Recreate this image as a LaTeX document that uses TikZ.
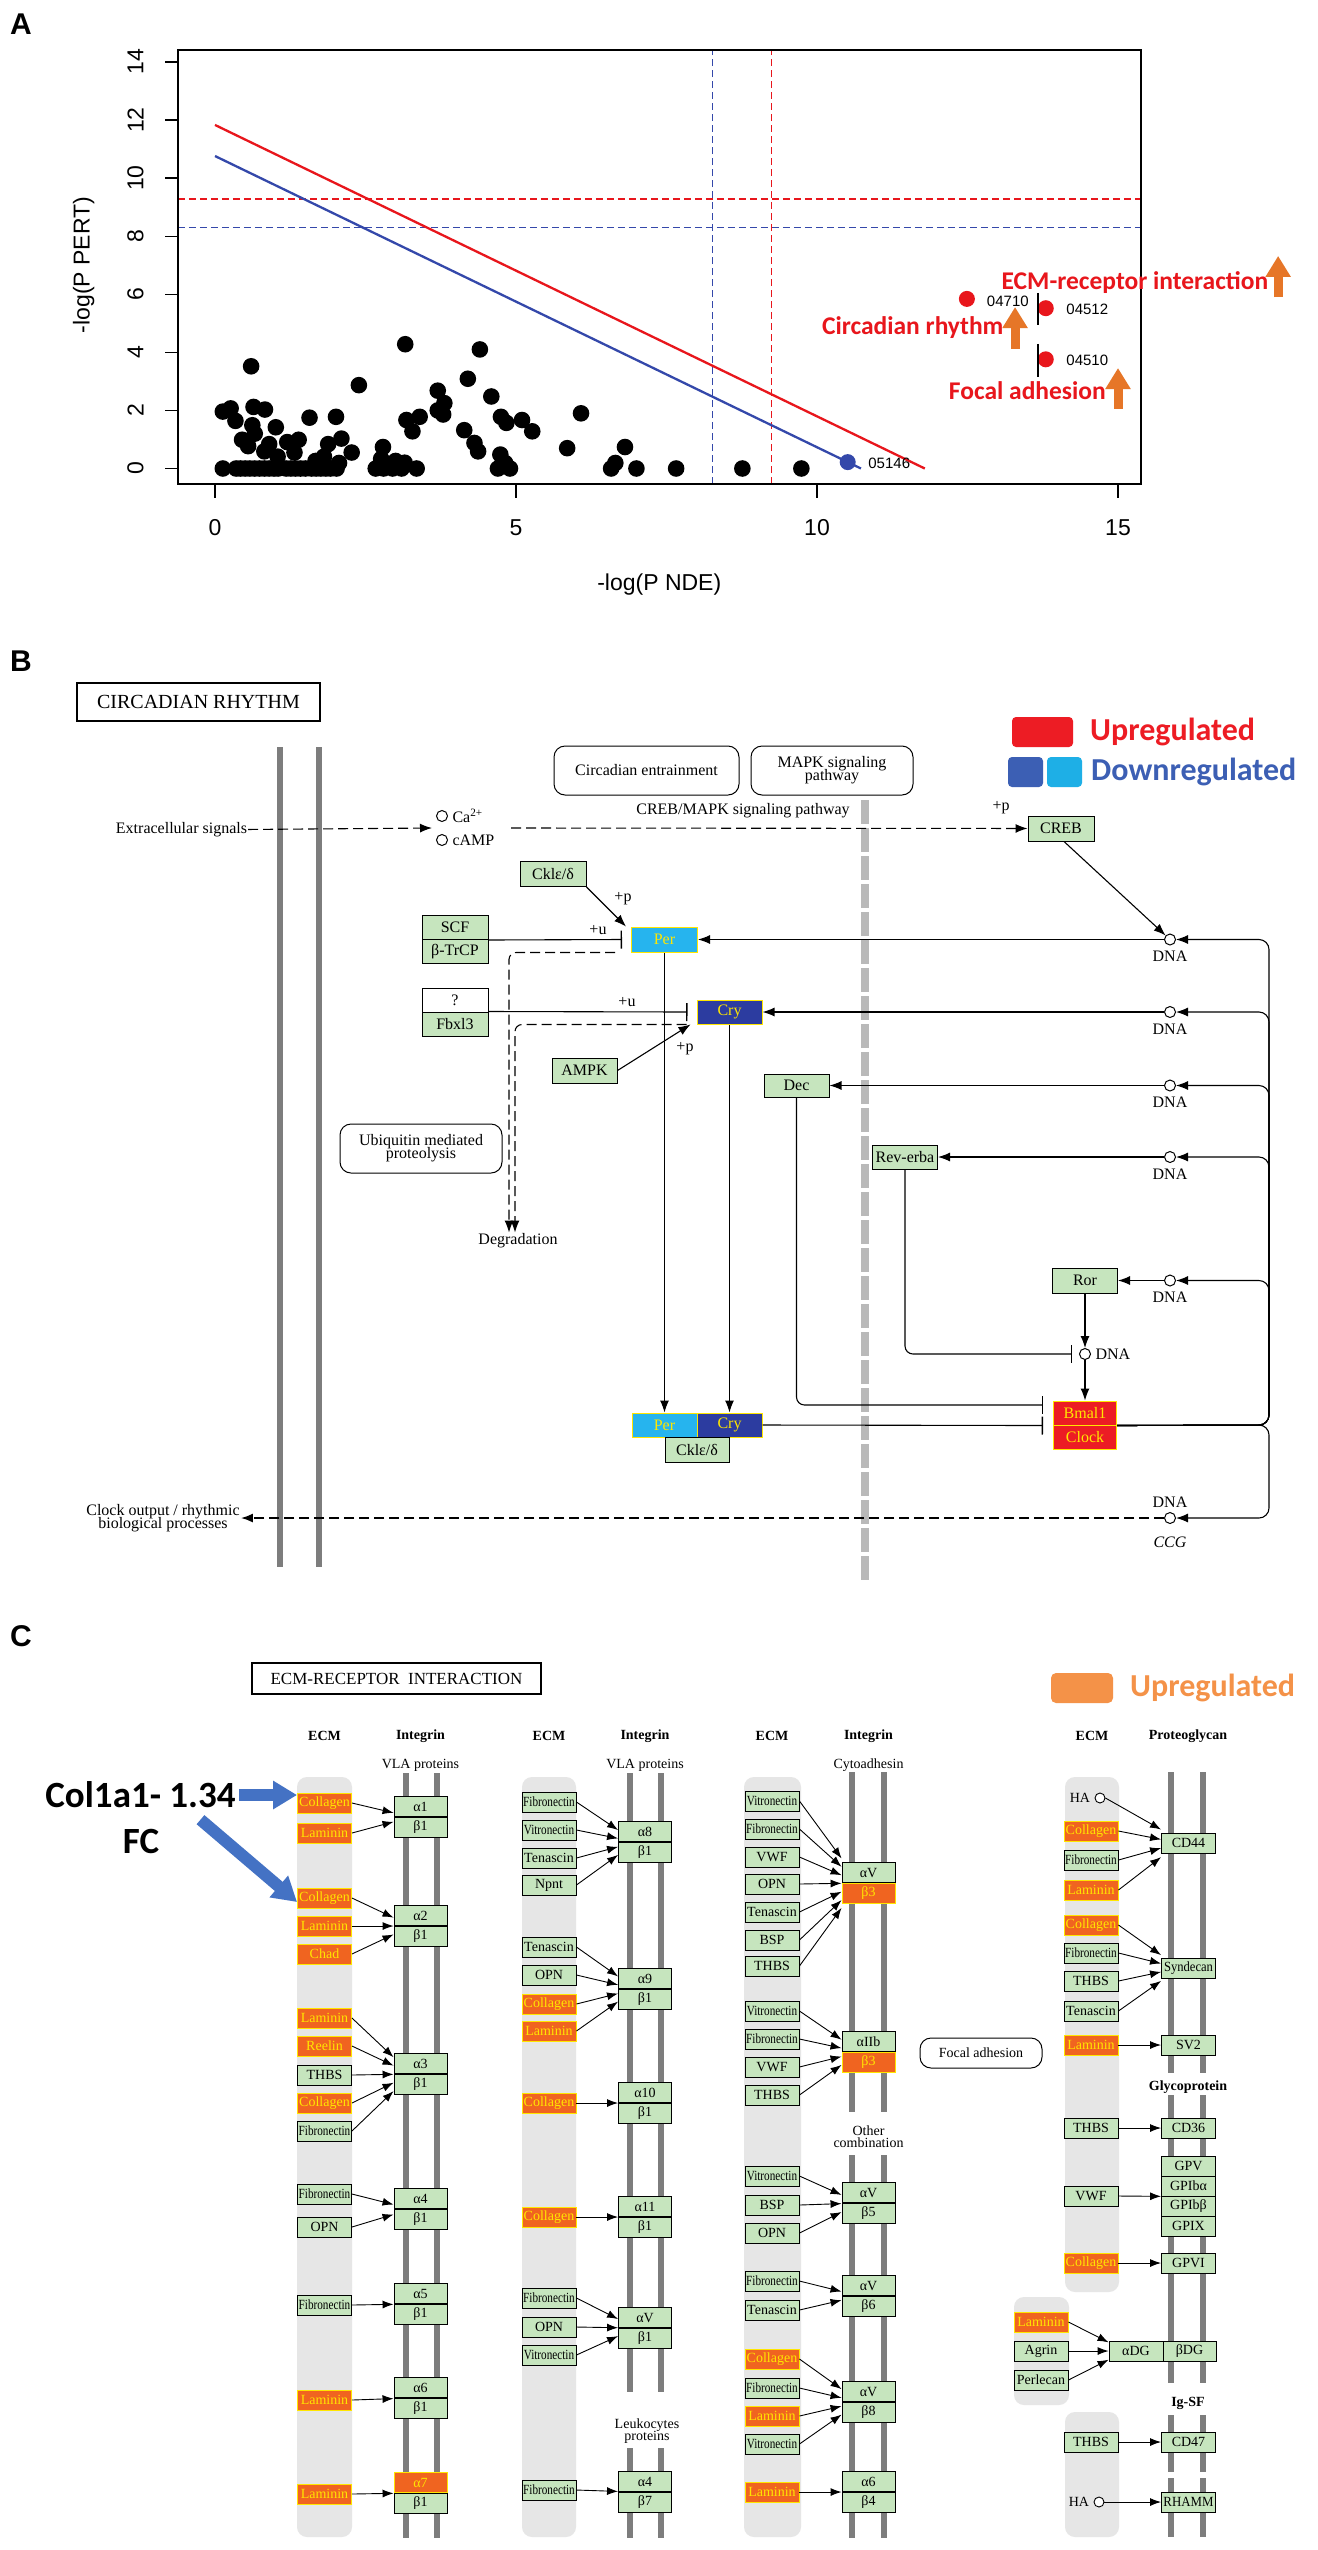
\documentclass[tikz,border=0pt]{standalone}
\usepackage{fontspec}
\setmainfont{Liberation Serif}
\newfontfamily\arialf{Liberation Sans}
\newfontfamily\calf{Carlito}
\usetikzlibrary{arrows.meta,positioning,calc}

\definecolor{kgreen}{RGB}{198,229,190}
\definecolor{korange}{RGB}{240,100,32}
\definecolor{kred}{RGB}{236,28,36}
\definecolor{perblue}{RGB}{38,180,238}
\definecolor{crydblue}{RGB}{44,60,160}
\definecolor{kyellow}{RGB}{255,230,0}
\definecolor{ecmgray}{RGB}{230,230,230}
\definecolor{membgray}{RGB}{125,125,125}
\definecolor{dashgray}{RGB}{185,185,185}
\definecolor{plotred}{RGB}{232,22,28}
\definecolor{plotblue}{RGB}{52,72,170}
\definecolor{annorange}{RGB}{230,118,40}
\definecolor{legred}{RGB}{237,28,36}
\definecolor{legdblue}{RGB}{60,95,180}
\definecolor{leglblue}{RGB}{30,175,230}
\definecolor{legorange}{RGB}{244,146,72}
\definecolor{fcblue}{RGB}{68,114,196}

\newcommand{\kfont}{\fontsize{16}{17}\selectfont}
\newcommand{\cfont}{\fontsize{14}{15}\selectfont}
\newcommand{\annfont}{\calf\bfseries\fontsize{25.5}{26}\selectfont}
\newcommand{\fn}{\scalebox{0.8}[1]{Fibronectin}}
\newcommand{\vn}{\scalebox{0.8}[1]{Vitronectin}}
\newcommand{\ecmlink}[2]{\draw[carr] (#1.east) -- ($(#2)!0.3!(#2 |- #1.east)$);}

\tikzset{
  kbox/.style={draw, line width=1pt, fill=kgreen, inner sep=0pt, minimum width=66pt, minimum height=25pt, font=\kfont},
  kg/.style={draw, line width=0.9pt, fill=kgreen, inner sep=0pt, minimum width=54pt, minimum height=20pt, font=\cfont},
  gn/.style={},
  up/.style={fill=korange, draw=kyellow, text=kyellow},
  upred/.style={fill=kred, draw=kyellow, text=kyellow},
  dnlight/.style={fill=perblue, draw=kyellow, text=kyellow},
  dndark/.style={fill=crydblue, draw=kyellow, text=kyellow},
  titlebox/.style={draw, line width=2.6pt, inner sep=0pt},
  pathbox/.style={draw, line width=1pt, rounded corners=11pt, inner sep=2pt, align=center, font=\kfont},
  dna/.style={circle, draw, line width=1pt, fill=white, inner sep=0pt, minimum size=11pt},
  dnalab/.style={dna, label={[font=\kfont, label distance=2pt]below:DNA}},
  ha/.style={circle, draw, line width=0.9pt, fill=white, inner sep=0pt, minimum size=10pt, label={[font=\cfont, label distance=1pt]left:HA}},
  memb/.style={line width=6pt, membgray},
  karr/.style={-{Latex[length=12pt,width=9pt]}, line width=1.1pt},
  kinh/.style={-{Bar[width=18pt,line width=1.4pt]}, line width=1.1pt},
  kdash/.style={dash pattern=on 10pt off 5pt, line width=1.3pt},
  carr/.style={-{Latex[length=11pt,width=8pt]}, line width=0.9pt},
  hdr/.style={font=\cfont\bfseries},
  sub/.style={font=\cfont, align=center},
  lbl/.style={font=\kfont, inner sep=1pt},
  annarr/.style={annorange, line width=9pt, -{Triangle[length=21pt,width=24pt]}},
  fcarr/.style={fcblue, line width=12pt, -{Triangle[length=24pt,width=27pt]}},
  panel/.style={font=\arialf\bfseries\fontsize{30}{30}\selectfont}
}

\begin{document}
\begin{tikzpicture}[x=1pt, y=-1pt]
\fill[white] (0,0) rectangle (1317,2550);
\useasboundingbox (0,0) rectangle (1317,2550);

%% ---------------- A ----------------
\node[panel] (labA) at (21,24) {A};
\begin{scope}[shift={(215,468.5)}, x=60.2pt, y=29.04pt]
  \draw[plotred, dash pattern=on 7pt off 4pt, line width=1.3pt] (-0.615,9.28) -- (15.38,9.28);
  \draw[plotblue, dash pattern=on 7pt off 4pt, line width=1.3pt] (-0.615,8.31) -- (15.38,8.31);
  \draw[plotblue, dash pattern=on 7pt off 4pt, line width=1.3pt] (8.26,-0.534) -- (8.26,14.41);
  \draw[plotred, dash pattern=on 7pt off 4pt, line width=1.3pt] (9.24,-0.534) -- (9.24,14.41);
  \draw[line width=1.5pt] (-0.615,-0.534) rectangle (15.38,14.41);
  \foreach \u in {0,5,10,15} {
    \draw[line width=1.2pt] (\u,-0.534) -- (\u,-1.0);
    \node[font=\arialf\fontsize{23}{23}\selectfont] at (\u,-2.05) {\u};
  }
  \foreach \v in {0,2,...,14} {
    \draw[line width=1.2pt] (-0.615,\v) -- (-0.83,\v);
    \node[font=\arialf\fontsize{23}{23}\selectfont, rotate=90] at (-1.32,\v) {\v};
  }
  \node[font=\arialf\fontsize{23}{23}\selectfont] (xlab) at (7.38,-4.01) {-log(P NDE)};
  \node[font=\arialf\fontsize{23}{23}\selectfont, rotate=90] (ylab) at (-2.18,7.01) {-log(P PERT)};
  % fits
  \draw[plotred, line width=2.3pt] (0,11.83) -- (11.79,0);
  \draw[plotblue, line width=2.3pt] (0,10.76) -- (10.73,0);
  % pathways
  \foreach \p in {(0.13,0),(0.35,0),(0.42,0),(0.5,0),(0.58,0),(0.66,0),(0.74,0),(0.82,0),(0.9,0),(0.98,0),(1.05,0),(1.18,0),(1.26,0),(1.34,0),(1.42,0),(1.5,0),(1.6,0),(1.68,0),(1.76,0),(1.84,0),(1.92,0),(2.02,0),(2.67,0),(2.8,0),(2.95,0),(3.1,0),(3.35,0),(4.7,0),(4.9,0),(6.58,0),(7.0,0),(7.66,0),(8.76,0),(9.74,0),
    (0.13,1.96),(0.26,2.07),(0.34,1.64),(0.6,3.52),(0.64,2.12),(0.83,2.03),(0.62,1.49),(0.66,1.2),(0.45,0.99),(0.55,0.77),(1.01,1.42),(0.9,0.84),(0.82,0.59),(1.2,0.91),(1.39,0.99),(1.32,0.55),(1.04,0.41),(1.57,1.75),(1.88,0.84),(2.01,1.78),(2.1,1.03),(2.27,0.55),(2.06,0.19),(1.81,0.41),(1.67,0.26),(2.39,2.87),(2.79,0.74),(2.76,0.33),(3.0,0.26),(3.15,0.2),(3.16,4.28),(3.18,1.67),(3.28,1.28),(3.4,1.78),(3.7,2.68),(3.81,2.25),(3.7,2.0),(3.79,1.86),(4.2,3.09),(4.4,4.1),(4.14,1.32),(4.31,0.88),(4.37,0.59),(4.59,2.48),(4.75,1.78),(4.84,1.57),(4.74,0.48),(4.82,0.19),(5.1,1.67),(5.27,1.28),(5.85,0.7),(6.08,1.9),(6.65,0.19),(6.81,0.74)}
    \fill \p circle[radius=8.3pt];
  \fill[plotblue] (10.51,0.22) circle[radius=8pt];
  \foreach \p in {(12.49,5.84),(13.8,5.52),(13.8,3.76)}
    \fill[plotred] \p circle[radius=8pt];
  \draw[line width=1.6pt] (13.67,6.05) -- (13.67,4.93);
  \draw[line width=1.6pt] (13.67,4.29) -- (13.67,3.16);
  \node[font=\arialf\fontsize{15}{15}\selectfont] (k05146) at (11.2,0.19) {05146};
  \node[font=\arialf\fontsize{15}{15}\selectfont] (k04710) at (13.17,5.77) {04710};
  \node[font=\arialf\fontsize{15}{15}\selectfont] (k04512) at (14.49,5.49) {04512};
  \node[font=\arialf\fontsize{15}{15}\selectfont] (k04510) at (14.49,3.74) {04510};
  \node[font=\annfont, text=plotred, anchor=east, inner sep=0pt] (tecm) at (17.5,6.42) {ECM-receptor interaction};
  \node[font=\annfont, text=plotred, anchor=east, inner sep=0pt] (tcirc) at (13.1,4.84) {Circadian rhythm};
  \node[font=\annfont, text=plotred, anchor=east, inner sep=0pt] (tfocal) at (14.8,2.67) {Focal adhesion};
  \draw[annarr] (17.66,5.9) -- (17.66,7.32);
  \draw[annarr] (13.29,4.12) -- (13.29,5.56);
  \draw[annarr] (15.0,2.05) -- (15.0,3.46);
\end{scope}

%% ---------------- B ----------------
\node[panel] (labB) at (21,661) {B};
\node[titlebox, minimum width=243pt, minimum height=38pt, font=\fontsize{20}{20}\selectfont] (crtitle) at (198.5,702) {CIRCADIAN RHYTHM};
\draw[memb] (280,747) -- (280,1567);
\draw[memb] (319,747) -- (319,1567);
\draw[line width=7.5pt, dashgray, dash pattern=on 24pt off 4pt] (865,800) -- (865,1580);

\node[fill=legred, rounded corners=4pt, minimum width=61pt, minimum height=30pt] (uplegb) at (1042.5,732) {};
\node[font=\calf\bfseries\fontsize{32}{32}\selectfont, text=legred, anchor=west, inner sep=0pt] (uptxtb) at (1090,732) {Upregulated};
\node[fill=legdblue, rounded corners=4pt, minimum width=35pt, minimum height=30pt] (dnlegb1) at (1025.5,772) {};
\node[fill=leglblue, rounded corners=4pt, minimum width=35pt, minimum height=30pt] (dnlegb2) at (1064.5,772) {};
\node[font=\calf\bfseries\fontsize{32}{32}\selectfont, text=legdblue, anchor=west, inner sep=0pt] (dntxtb) at (1091,772) {Downregulated};

\node[pathbox, minimum width=185pt, minimum height=49pt] (entrain) at (646.5,770.5) {Circadian entrainment};
\node[pathbox, minimum width=162pt, minimum height=49pt] (mapk) at (832,770.5) {MAPK signaling\\[-4pt]pathway};
\node[pathbox, minimum width=162pt, minimum height=49pt] (ubiq) at (421,1148.5) {Ubiquitin mediated\\[-4pt]proteolysis};

\node[lbl] (extra) at (181.5,830) {Extracellular signals};
\node[dna, label={[font=\kfont, label distance=1pt]right:Ca\textsuperscript{2+}}] (ca) at (442,816) {};
\node[dna, label={[font=\kfont, label distance=1pt]right:cAMP}] (camp) at (442,840) {};
\coordinate (camid) at (432,828);
\coordinate (creblink) at (511,828);
\node[lbl] (crebmapk) at (743,811) {CREB/MAPK signaling pathway};
\node[lbl] (pp1) at (1001,808) {+p};
\node[kbox] (creb) at (1061,828.5) {CREB};

\node[kbox] (ck) at (553,874) {Cklε/δ};
\node[kbox, minimum height=24pt] (scf) at (455,927.5) {SCF};
\node[kbox, minimum height=24pt] (btrcp) at (455,951.5) {β-TrCP};
\node[kbox, dnlight, minimum width=66pt] (per) at (664.5,939.5) {Per};
\node[kbox, fill=white, minimum height=24pt] (qm) at (455,1000) {?};
\node[kbox, minimum height=24pt] (fbxl) at (455,1024) {Fbxl3};
\node[kbox, dndark, minimum width=65pt, minimum height=24pt] (cry) at (729.5,1012) {Cry};
\node[kbox, minimum width=65pt] (ampk) at (584.5,1070.5) {AMPK};
\node[kbox, minimum width=65pt, minimum height=23pt] (dec) at (796.5,1085.5) {Dec};
\node[kbox, minimum width=65pt, minimum height=24pt] (rev) at (905,1157) {Rev-erba};
\node[kbox, minimum width=65pt] (ror) at (1085,1280.5) {Ror};
\node[kbox, upred, minimum width=63pt, minimum height=24pt] (bmal) at (1085,1413) {Bmal1};
\node[kbox, upred, minimum width=63pt, minimum height=24pt] (clock) at (1085,1437) {Clock};
\node[kbox, dnlight, minimum width=65pt, minimum height=24pt] (pcper) at (664.5,1425) {Per};
\node[kbox, dndark, minimum width=65pt, minimum height=24pt] (pccry) at (729.5,1425) {Cry};
\node[kbox, minimum width=64pt] (pcck) at (697,1449.5) {Cklε/δ};
\node[lbl] (pp2) at (623,899) {+p};
\node[lbl] (pu1) at (598,930) {+u};
\node[lbl] (pu2) at (627,1002) {+u};
\node[lbl] (pp3) at (685,1049) {+p};
\node[lbl] (degr) at (518,1241) {Degradation};

\foreach \n/\y in {d1/939.5, d2/1012, d3/1085.5, d4/1157, d5/1280.5}
  \node[dnalab] (\n) at (1170,\y) {};
\node[dna, label={[font=\kfont, label distance=1pt]right:DNA}] (dbm) at (1085,1354) {};
\node[dna, label={[font=\kfont, label distance=1pt]above:DNA}, label={[font=\kfont\itshape, label distance=9pt]below:CCG}] (dccg) at (1170,1518) {};
\node[lbl, align=center] (clkout) at (163,1518) {Clock output / rhythmic\\[-4pt]biological processes};
\coordinate (bus) at (1269,1425);

\draw[kdash, karr] (extra) -- (camid);
\draw[kdash, karr] (creblink) -- (creb);
\draw[karr] (ck.south east) -- ([xshift=-5pt]per.north west);
\draw[kinh] (scf.south east) -- ([xshift=-9pt]per.west);
\draw[kinh] (fbxl.north east) -- ([xshift=-9pt]cry.west);
\draw[karr] (ampk.east) -- ([xshift=-6pt]cry.south west);
\draw[kdash, karr, rounded corners=7pt] ([xshift=-16pt]per.south west) -| ([xshift=-9pt]degr.north);
\draw[kdash, karr, rounded corners=7pt] ([xshift=-10pt]cry.south west) -| ([xshift=-3pt]degr.north);
\draw[karr] (per) -- (pcper);
\draw[karr] (cry) -- (pccry);
\foreach \a/\b in {d1/per, d2/cry, d3/dec, d4/rev, d5/ror}
  \draw[karr] (\a) -- (\b);
\draw[karr] ([xshift=3pt]creb.south) -- (d1);
\draw[karr] (ror) -- (dbm);
\draw[karr] (dbm) -- (bmal);
\draw[kinh, rounded corners=8pt] (dec.south) |- ([xshift=-10pt,yshift=8pt]bmal.west);
\draw[kinh] (pccry.east) -- ([xshift=-10pt]bmal.south west);
\draw[kinh, rounded corners=8pt] (rev.south) |- ([xshift=-7pt]dbm.west);
\foreach \d in {d1,d2,d3,d4,d5,dccg}
  \draw[karr, rounded corners=10pt] (bmal.south east) -- (bus) |- (\d);
\draw[kdash, karr, line width=1.8pt] (dccg) -- (clkout);

%% ---------------- C ----------------
\node[panel] (labC) at (21,1636) {C};
\node[titlebox, line width=2.4pt, minimum width=289pt, minimum height=31pt, font=\fontsize{17}{17}\selectfont] (ecmtitle) at (396.5,1678.5) {ECM-RECEPTOR\ \ INTERACTION};
\node[fill=legorange, rounded corners=5pt, minimum width=62pt, minimum height=30pt] (uplegc) at (1082,1688) {};
\node[font=\calf\bfseries\fontsize{32}{32}\selectfont, text=legorange, anchor=west, inner sep=0pt] (uptxtc) at (1130,1688) {Upregulated};

\foreach \n/\x/\t in {h1/324.5/ECM, h2/420.5/Integrin, h3/549/ECM, h4/645/Integrin, h5/772/ECM, h6/868.5/Integrin, h7/1092/ECM, h8/1188/Proteoglycan}
  \node[hdr] (\n) at (\x,1736) {\t};
\node[sub] (vla1) at (420.5,1765) {VLA proteins};
\node[sub] (vla2) at (645,1765) {VLA proteins};
\node[sub] (cyto) at (868.5,1765) {Cytoadhesin};

\fill[ecmgray, rounded corners=10pt] (297,1777) rectangle (352,2537);
\fill[ecmgray, rounded corners=10pt] (522,1777) rectangle (576,2537);
\fill[ecmgray, rounded corners=10pt] (744,1777) rectangle (801,2537);
\fill[ecmgray, rounded corners=10pt] (1065,1777) rectangle (1119,2292);
\fill[ecmgray, rounded corners=10pt] (1014,2297) rectangle (1069,2405);
\fill[ecmgray, rounded corners=10pt] (1065,2412) rectangle (1119,2537);
\foreach \x/\a/\b in {406/1773/2538, 437/1773/2538, 630/1773/2392, 661/1773/2392, 630/2448/2538, 661/2448/2538, 852/1772/2112, 884/1772/2112, 852/2155/2538, 884/2155/2538, 1171/1772/2073, 1203/1772/2073, 1171/2095/2383, 1203/2095/2383, 1171/2415/2472, 1203/2415/2472, 1171/2478/2537, 1203/2478/2537}
  \draw[memb, line width=5.5pt] (\x,\a) -- (\x,\b);
\node[sub] (leuko) at (647,2431) {Leukocytes\\[-3pt]proteins};
\node[sub] (othc) at (868.5,2137) {Other\\[-3pt]combination};
\node[hdr] (glyco) at (1188,2087) {Glycoprotein};
\node[hdr] (igsf) at (1188,2403) {Ig-SF};
\node[pathbox, font=\cfont, minimum width=122pt, minimum height=30pt] (focal) at (981,2053) {Focal adhesion};

% ECM ligands
\foreach \n/\y/\s/\t in {e1a/1803/up/Collagen, e1b/1833/up/Laminin, e1c/1898/up/Collagen, e1d/1926/up/Laminin, e1e/1954/up/Chad, e1f/2018/up/Laminin, e1g/2046/up/Reelin, e1h/2075/gn/THBS, e1i/2103/up/Collagen, e1j/2131/gn/\fn, e1k/2194/gn/\fn, e1l/2227/gn/OPN, e1m/2305/gn/\fn, e1n/2400/up/Laminin, e1o/2494/up/Laminin}
  \node[kg,\s] (\n) at (324.5,\y) {\t};
\foreach \n/\y/\s/\t in {e2a/1802/gn/\fn, e2b/1830/gn/\vn, e2c/1858/gn/Tenascin, e2d/1885/gn/Npnt, e2e/1947/gn/Tenascin, e2f/1975/gn/OPN, e2g/2004/up/Collagen, e2h/2031/up/Laminin, e2i/2103/up/Collagen, e2j/2217/up/Collagen, e2k/2298/gn/\fn, e2l/2327/gn/OPN, e2m/2355/gn/\vn, e2n/2490/gn/\fn}
  \node[kg,\s] (\n) at (549,\y) {\t};
\foreach \n/\y/\s/\t in {e3a/1801/gn/\vn, e3b/1829/gn/\fn, e3c/1857/gn/VWF, e3d/1884/gn/OPN, e3e/1912/gn/Tenascin, e3f/1940/gn/BSP, e3g/1966/gn/THBS, e3h/2011/gn/\vn, e3i/2039/gn/\fn, e3j/2067/gn/VWF, e3k/2095/gn/THBS, e3l/2176/gn/\vn, e3m/2205/gn/BSP, e3n/2233/gn/OPN, e3o/2281/gn/\fn, e3p/2310/gn/Tenascin, e3q/2359/up/Collagen, e3r/2388/gn/\fn, e3s/2416/up/Laminin, e3t/2444/gn/\vn, e3u/2492/up/Laminin}
  \node[kg,\s] (\n) at (772,\y) {\t};
\foreach \n/\y/\s/\t in {e4a/1831/up/Collagen, e4b/1860/gn/\fn, e4c/1890/up/Laminin, e4d/1925/up/Collagen, e4e/1953/gn/\fn, e4f/1981/gn/THBS, e4g/2011/gn/Tenascin, e4h/2045/up/Laminin, e4i/2128/gn/THBS, e4j/2196/gn/VWF, e4k/2263/up/Collagen, e6a/2442/gn/THBS}
  \node[kg,\s] (\n) at (1091,\y) {\t};
\foreach \n/\y/\s/\t in {e5a/2322/up/Laminin, e5b/2351/gn/Agrin, e5c/2380/gn/Perlecan}
  \node[kg,\s] (\n) at (1041,\y) {\t};
\node[ha] (ha1) at (1100,1798) {};
\node[ha] (ha2) at (1099,2502) {};

% receptors
\foreach \n/\x/\y/\ta/\tb/\sa/\sb in {i1/420.5/1817/α1/β1/gn/gn, i2/420.5/1926/α2/β1/gn/gn, i3/420.5/2074/α3/β1/gn/gn, i4/420.5/2209/α4/β1/gn/gn, i5/420.5/2304/α5/β1/gn/gn, i6/420.5/2398/α6/β1/gn/gn, i7/420.5/2493/α7/β1/up/gn, i8/645/1842/α8/β1/gn/gn, i9/645/1989/α9/β1/gn/gn, i10/645/2103/α10/β1/gn/gn, i11/645/2217/α11/β1/gn/gn, i12/645/2328/αV/β1/gn/gn, i13/645/2492/α4/β7/gn/gn, i14/868.5/1883/αV/β3/gn/up, i15/868.5/2052/αIIb/β3/gn/up, i16/868.5/2203/αV/β5/gn/gn, i17/868.5/2296/αV/β6/gn/gn, i18/868.5/2402/αV/β8/gn/gn, i19/868.5/2492/α6/β4/gn/gn} {
  \node[kg, \sa, minimum width=53pt, anchor=south] (\n-a) at (\x,\y) {\ta};
  \node[kg, \sb, minimum width=53pt, anchor=north] (\n-b) at (\x,\y) {\tb};
}
\foreach \n/\y/\t in {p1/1843/CD44, p2/1968/\scalebox{0.9}[1]{Syndecan}, p3/2045/SV2, g1/2128/CD36, g2/2166/GPV, g3/2186/GPIbα, g4/2206/GPIbβ, g5/2226/GPIX, g6/2263/GPVI, ig1/2442/CD47, ig2/2502/\scalebox{0.92}[1]{RHAMM}}
  \node[kg] (\n) at (1188.5,\y) {\t};
\node[kg] (dg1) at (1136,2351) {αDG};
\node[kg, minimum width=53pt] (dg2) at (1189.5,2351) {βDG};

% interactions
\foreach \e/\i in {e1a/i1, e1b/i1, e1c/i2, e1d/i2, e1e/i2, e1f/i3, e1g/i3, e1h/i3, e1i/i3, e1j/i3, e1k/i4, e1l/i4, e1m/i5, e1n/i6, e1o/i7, e2a/i8, e2b/i8, e2c/i8, e2d/i8, e2e/i9, e2f/i9, e2g/i9, e2h/i9, e2i/i10, e2j/i11, e2k/i12, e2l/i12, e2m/i12, e2n/i13, e3a/i14, e3b/i14, e3c/i14, e3d/i14, e3e/i14, e3f/i14, e3g/i14, e3h/i15, e3i/i15, e3j/i15, e3k/i15, e3l/i16, e3m/i16, e3n/i16, e3o/i17, e3p/i17, e3q/i18, e3r/i18, e3s/i18, e3t/i18, e3u/i19}
  {\ecmlink{\e}{\i-a.south west}}
\foreach \e/\t in {ha1/p1.west, e4a/p1.west, e4b/p1.west, e4c/p1.west, e4d/p2.west, e4e/p2.west, e4f/p2.west, e4g/p2.west, e4h/p3.west, e4i/g1.west, e4j/g3.south west, e4k/g6.west, e5a/dg1.west, e5b/dg1.west, e5c/dg1.west, e6a/ig1.west, ha2/ig2.west}
  {\ecmlink{\e}{\t}}

% fold change callout
\node[font=\calf\bfseries\fontsize{37}{37}\selectfont] (col1a1) at (140.5,1795) {Col1a1- 1.34};
\node[font=\calf\bfseries\fontsize{37}{37}\selectfont] (fc) at (141,1841) {FC};
\draw[fcarr] (col1a1.east) -- (e1a.west |- col1a1.east);
\draw[fcarr] ([xshift=60pt,yshift=-8pt]col1a1.south) -- ([yshift=-4pt]e1c.west);
\end{tikzpicture}
\end{document}
